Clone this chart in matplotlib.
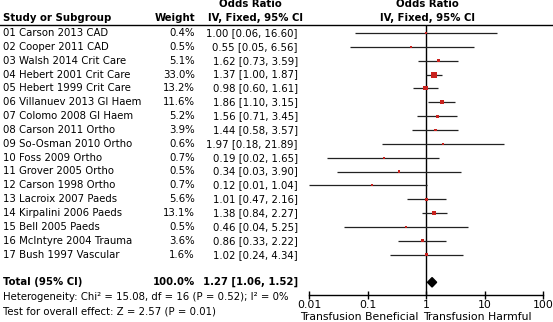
import matplotlib
matplotlib.use("Agg")
import matplotlib.pyplot as plt
import matplotlib.transforms as mtransforms
from matplotlib.patches import Polygon

# -------------------------
# Data
# -------------------------
studies = [
    "01 Carson 2013 CAD", "02 Cooper 2011 CAD", "03 Walsh 2014 Crit Care",
    "04 Hebert 2001 Crit Care", "05 Hebert 1999 Crit Care", "06 Villanuev 2013 GI Haem",
    "07 Colomo 2008 GI Haem", "08 Carson 2011 Ortho", "09 So-Osman 2010 Ortho",
    "10 Foss 2009 Ortho", "11 Grover 2005 Ortho", "12 Carson 1998 Ortho",
    "13 Lacroix 2007 Paeds", "14 Kirpalini 2006 Paeds", "15 Bell 2005 Paeds",
    "16 McIntyre 2004 Trauma", "17 Bush 1997 Vascular",
]
weights = [0.4, 0.5, 5.1, 33.0, 13.2, 11.6, 5.2, 3.9, 0.6, 0.7, 0.5, 0.7, 5.6, 13.1, 0.5, 3.6, 1.6]
odds = [1.00, 0.55, 1.62, 1.37, 0.98, 1.86, 1.56, 1.44, 1.97, 0.19, 0.34, 0.12, 1.01, 1.38, 0.46, 0.86, 1.02]
lower = [0.06, 0.05, 0.73, 1.00, 0.60, 1.10, 0.71, 0.58, 0.18, 0.02, 0.03, 0.01, 0.47, 0.84, 0.04, 0.33, 0.24]
upper = [16.60, 6.56, 3.59, 1.87, 1.61, 3.15, 3.45, 3.57, 21.89, 1.65, 3.90, 1.04, 2.16, 2.27, 5.25, 2.22, 4.34]

total_label = "Total (95% CI)"
total_weight = 100.0
total_or, total_lo, total_hi = 1.27, 1.06, 1.52

heterogeneity = "Heterogeneity: Chi² = 15.08, df = 16 (P = 0.52); I² = 0%"
overall_test = "Test for overall effect: Z = 2.57 (P = 0.01)"

xticks = [0.01, 0.1, 1, 10, 100]
xtick_labels = ["0.01", "0.1", "1", "10", "100"]

# -------------------------
# Layout (pixels)
# -------------------------
W, H = 553, 322
FS = 7.3
red = "#C8221E"

fig = plt.figure(figsize=(W / 100, H / 100), dpi=100)

def fx(px):
    return px / W

def fy(py):
    return 1 - py / H

row0, row_h = 33, 13.85
top_px, bot_px = 25, 295
ax = fig.add_axes([fx(309), fy(bot_px), fx(543) - fx(309), fy(top_px) - fy(bot_px)])
ax.set_xscale("log")
ax.set_xlim(0.01, 100)
ax.set_ylim((bot_px - row0) / row_h, (top_px - row0) / row_h)
for s in ["top", "right", "left"]:
    ax.spines[s].set_visible(False)
ax.spines["bottom"].set_linewidth(1.0)
ax.set_yticks([])
ax.set_xticks(xticks)
ax.set_xticklabels(xtick_labels)
ax.minorticks_off()
ax.tick_params(axis="x", direction="inout", length=6, width=1.0, pad=0.5, labelsize=FS + 0.5)
ax.axvline(1, color="black", lw=1.0, zorder=1)

# rows
rows = list(range(len(studies)))
ax.hlines(rows, lower, upper, color="#222222", lw=0.9, zorder=2)
ax.scatter(odds, rows, marker="s", s=[0.5 * w + 2.0 for w in weights], color=red,
           linewidths=0, zorder=3)

total_row = 18
dh = 0.34
ax.add_patch(Polygon([(total_lo, total_row), (total_or, total_row - dh),
                      (total_hi, total_row), (total_or, total_row + dh)],
                     closed=True, facecolor="black", edgecolor="black", zorder=3))

# text columns
tr = mtransforms.blended_transform_factory(fig.transFigure, ax.transData)
for i, name in enumerate(studies):
    ax.text(fx(3), i, name, transform=tr, ha="left", va="center", fontsize=FS)
    ax.text(fx(195), i, f"{weights[i]:.1f}%", transform=tr, ha="right", va="center", fontsize=FS)
    ax.text(fx(298), i, f"{odds[i]:.2f} [{lower[i]:.2f}, {upper[i]:.2f}]", transform=tr,
            ha="right", va="center", fontsize=FS)

ax.text(fx(3), total_row, total_label, transform=tr, ha="left", va="center", fontsize=FS, fontweight="bold")
ax.text(fx(195), total_row, f"{total_weight:.1f}%", transform=tr, ha="right", va="center",
        fontsize=FS, fontweight="bold")
ax.text(fx(298), total_row, f"{total_or:.2f} [{total_lo:.2f}, {total_hi:.2f}]", transform=tr,
        ha="right", va="center", fontsize=FS, fontweight="bold")

# headers
fig.text(fx(3), fy(18), "Study or Subgroup", ha="left", va="center", fontsize=FS, fontweight="bold")
fig.text(fx(195), fy(18), "Weight", ha="right", va="center", fontsize=FS, fontweight="bold")
fig.text(fx(250), fy(4), "Odds Ratio", ha="center", va="center", fontsize=FS, fontweight="bold")
fig.text(fx(256), fy(18), "IV, Fixed, 95% CI", ha="center", va="center", fontsize=FS, fontweight="bold")
fig.text(fx(427), fy(4), "Odds Ratio", ha="center", va="center", fontsize=FS, fontweight="bold")
fig.text(fx(427), fy(18), "IV, Fixed, 95% CI", ha="center", va="center", fontsize=FS, fontweight="bold")
fig.add_artist(plt.Line2D([0, 1], [fy(25), fy(25)], color="black", lw=1.0, transform=fig.transFigure))

# footer
fig.text(fx(3), fy(297.5), heterogeneity, ha="left", va="center", fontsize=FS)
fig.text(fx(3), fy(311), overall_test, ha="left", va="center", fontsize=FS)
fig.text(fx(418), fy(317), "Transfusion Beneficial", ha="right", va="center", fontsize=FS + 0.5)
fig.text(fx(423), fy(317), "Transfusion Harmful", ha="left", va="center", fontsize=FS + 0.5)

fig.savefig("out.png", dpi=100)
